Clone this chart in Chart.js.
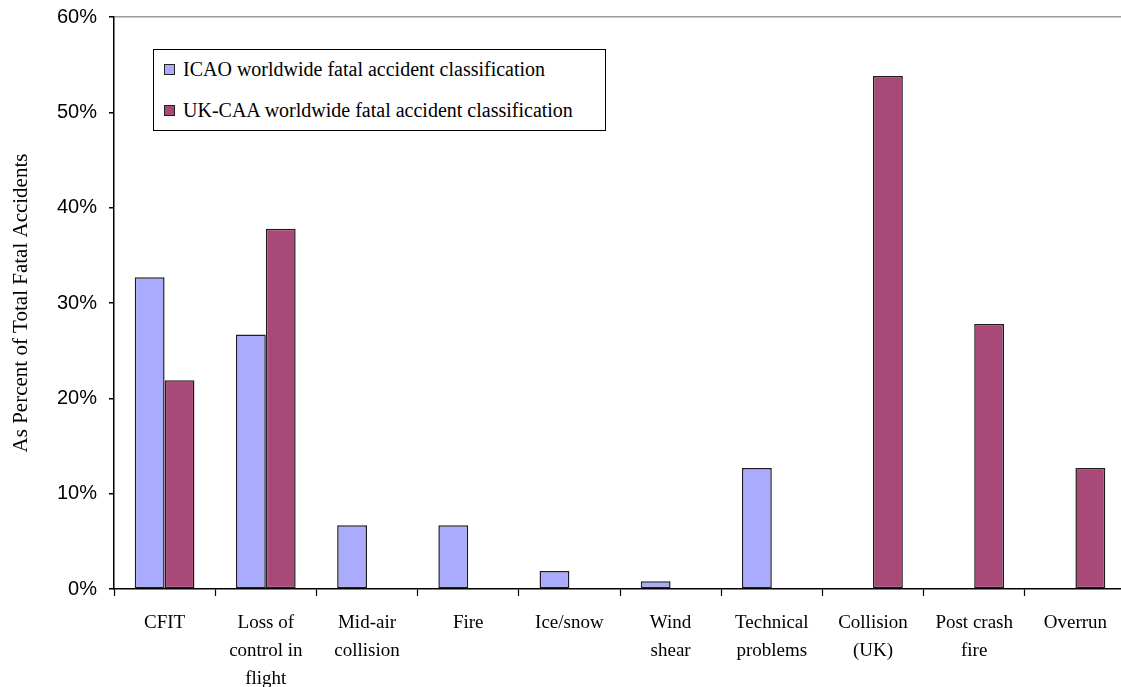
<!DOCTYPE html>
<html>
<head>
<meta charset="utf-8">
<title>Fatal accident classification</title>
<script src="https://cdn.jsdelivr.net/npm/chart.js@4.4.1/dist/chart.umd.min.js"></script>
<style>
  html, body { margin: 0; padding: 0; overflow: hidden; background: #fff; }
  #wrap { position: relative; width: 1126px; height: 687px; }
  #chart { display: block; }
  #legend {
    position: absolute; left: 153px; top: 49px; width: 453px; height: 82px;
    border: 1px solid #000; background: #fff; box-sizing: border-box;
    font-family: "Liberation Serif", "Times New Roman", serif; font-size: 20px; color: #000;
  }
  #legend .row { position: absolute; left: 10px; display: flex; align-items: center; white-space: nowrap; }
  #legend .sw { width: 9px; height: 9px; border: 1px solid #222; margin-right: 8px; }
</style>
</head>
<body>
<div id="wrap">
  <canvas id="chart" width="1126" height="687"></canvas>
  <div id="legend"></div>
</div>
<script>
// Accident categories (multi-line axis labels)
const categories = [
  ['CFIT'],
  ['Loss of', 'control in', 'flight'],
  ['Mid-air', 'collision'],
  ['Fire'],
  ['Ice/snow'],
  ['Wind', 'shear'],
  ['Technical', 'problems'],
  ['Collision', '(UK)'],
  ['Post crash', 'fire'],
  ['Overrun']
];

const seriesNames = [
  'ICAO worldwide fatal accident classification',
  'UK-CAA worldwide fatal accident classification'
];

// Share of total fatal accidents, percent (null = not used in that scheme)
const icaoValues  = [32.7, 26.7, 6.7, 6.7, 1.9, 0.8, 12.7, null, null, null];
const ukCaaValues = [21.9, 37.8, null, null, null, null, null, 53.8, 27.8, 12.7];

const yTicks = [0, 10, 20, 30, 40, 50, 60];

const fills = ['#aaabfd', '#a94977'];
const serif = '"Liberation Serif", "Times New Roman", serif';
const sans = '"Liberation Sans", Arial, sans-serif';

const chart = new Chart(document.getElementById('chart'), {
  type: 'bar',
  data: {
    labels: categories,
    datasets: [
      { label: seriesNames[0], data: icaoValues, backgroundColor: fills[0] },
      { label: seriesNames[1], data: ukCaaValues, backgroundColor: fills[1] }
    ]
  },
  options: {
    responsive: false,
    animation: false,
    layout: { padding: { top: 17, right: 0, left: 0, bottom: 0 } },
    datasets: {
      bar: {
        categoryPercentage: 0.59,
        barPercentage: 1.0,
        borderColor: '#1e1e1e',
        borderWidth: 1.5,
        borderSkipped: false
      }
    },
    plugins: {
      legend: { display: false },
      tooltip: { enabled: false }
    },
    scales: {
      x: {
        offset: true,
        border: { display: true, color: '#000', width: 1.5 },
        grid: {
          offset: true,
          drawOnChartArea: false,
          drawTicks: true,
          tickLength: 7,
          tickColor: '#000',
          tickWidth: 1.2
        },
        ticks: {
          color: '#000',
          font: { family: serif, size: 19, lineHeight: 1.47 },
          padding: 13,
          maxRotation: 0,
          autoSkip: false
        },
        afterFit: (scale) => { scale.height = 98; }
      },
      y: {
        min: 0,
        max: 60,
        afterBuildTicks: (scale) => { scale.ticks = yTicks.map(v => ({ value: v })); },
        border: { display: true, color: '#000', width: 1.5 },
        grid: {
          drawTicks: true,
          tickLength: 5,
          tickColor: '#000',
          color: (ctx) => (ctx.tick && ctx.tick.value === 60 ? '#9a9a9a' : 'rgba(0,0,0,0)'),
          lineWidth: 1.5
        },
        ticks: {
          color: '#000',
          font: { family: sans, size: 20 },
          padding: 12,
          callback: (v) => v + '%'
        },
        title: {
          display: true,
          text: 'As Percent of Total Fatal Accidents',
          color: '#000',
          font: { family: serif, size: 21 },
          padding: { top: 9, bottom: 0 }
        },
        afterFit: (scale) => {
          scale.width = 114;
          scale.paddingTop = 0;
          scale.paddingBottom = 0;
        }
      }
    }
  }
});

// Boxed legend built from the chart's datasets
const legendEl = document.getElementById('legend');
chart.data.datasets.forEach((ds, i) => {
  const row = document.createElement('div');
  row.className = 'row';
  row.style.top = (i === 0 ? 8 : 49) + 'px';
  const sw = document.createElement('span');
  sw.className = 'sw';
  sw.style.background = ds.backgroundColor;
  const txt = document.createElement('span');
  txt.textContent = ds.label;
  row.appendChild(sw);
  row.appendChild(txt);
  legendEl.appendChild(row);
});
</script>
</body>
</html>
